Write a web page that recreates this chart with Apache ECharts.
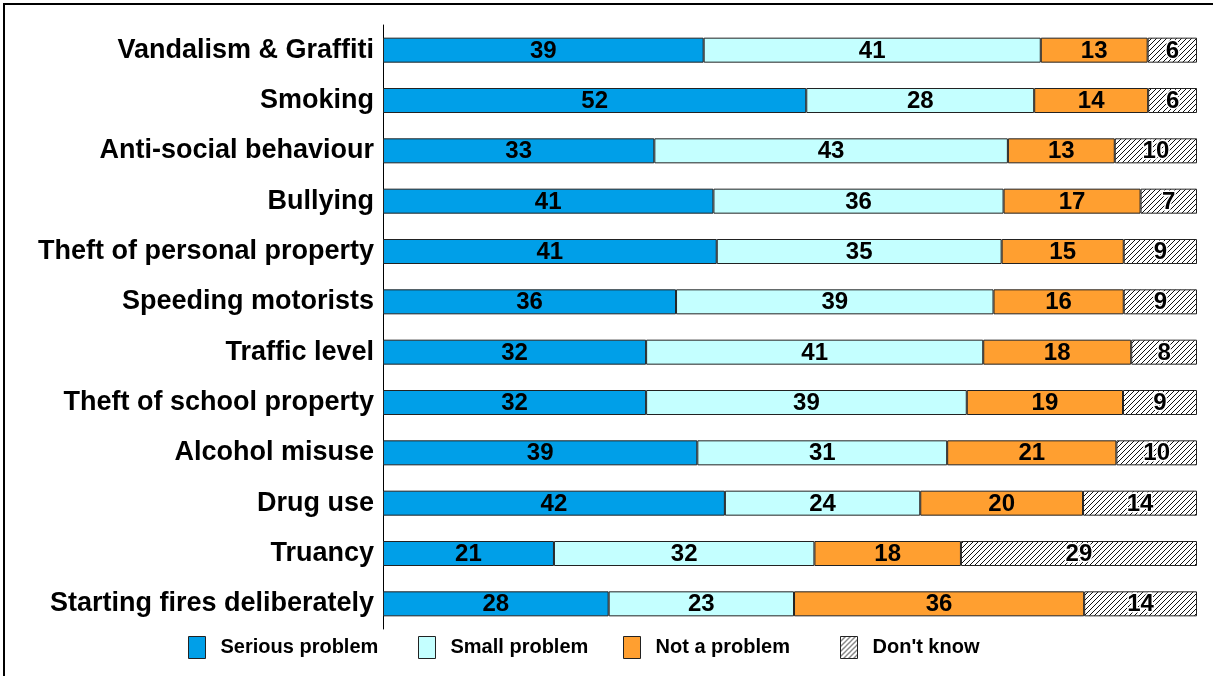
<!DOCTYPE html>
<html>
<head>
<meta charset="utf-8">
<script src="https://cdn.jsdelivr.net/npm/echarts@6/dist/echarts.min.js"></script>
<style>
  html, body { margin: 0; padding: 0; background: #fff; }
  #chart { width: 1213px; height: 676px; }
</style>
</head>
<body>
<div id="chart"></div>
<script>
var categories = ['Vandalism & Graffiti', 'Smoking', 'Anti-social behaviour', 'Bullying',
  'Theft of personal property', 'Speeding motorists', 'Traffic level', 'Theft of school property',
  'Alcohol misuse', 'Drug use', 'Truancy', 'Starting fires deliberately']
var serious = [39, 52, 33, 41, 41, 36, 32, 32, 39, 42, 21, 28]
var small = [41, 28, 43, 36, 35, 39, 41, 39, 31, 24, 32, 23]
var notProblem = [13, 14, 13, 17, 15, 16, 18, 19, 21, 20, 18, 36]
var dontKnow = [6, 6, 10, 7, 9, 9, 8, 9, 10, 14, 29, 14]
var seriesNames = ['Serious problem', 'Small problem', 'Not a problem', "Don't know"]

// hatch pattern for "Don't know"
function makeHatch() {
  var s = 5
  var c = document.createElement('canvas')
  c.width = s
  c.height = s
  var ctx = c.getContext('2d')
  ctx.fillStyle = '#fff'
  ctx.fillRect(0, 0, s, s)
  ctx.fillStyle = '#111'
  for (var i = 0; i < s; i++) {
    ctx.fillRect(i, s - 1 - i, 1, 1)
  }
  return c
}
var hatch = { image: makeHatch(), repeat: 'repeat' }

// every bar is stretched to the full width (row share)
var rows = [serious, small, notProblem, dontKnow]
var totals = categories.map(function (c, i) {
  return serious[i] + small[i] + notProblem[i] + dontKnow[i]
})

var colors = ['#009fe8', '#c4ffff', '#ff9f30', hatch]

var myChart = echarts.init(document.getElementById('chart'))

var series = rows.map(function (vals, k) {
  return {
    name: seriesNames[k],
    type: 'bar',
    stack: 'all',
    barWidth: 25,
    data: vals.map(function (v, i) {
      return { value: v / totals[i] * 100, raw: v }
    }),
    itemStyle: {
      color: colors[k],
      borderColor: '#222',
      borderWidth: 1
    },
    label: {
      show: true,
      position: 'inside',
      offset: [0, 1],
      color: '#000',
      fontFamily: 'Liberation Sans, Arial',
      fontWeight: 'bold',
      fontSize: 24,
      textBorderColor: k === 3 ? '#fff' : 'transparent',
      textBorderWidth: k === 3 ? 3 : 0,
      formatter: function (p) {
        return p.data.raw
      }
    }
  }
})

var legendLefts = [183, 413, 618, 835]
var legends = seriesNames.map(function (n, k) {
  return {
    data: [n],
    left: legendLefts[k],
    top: 631,
    itemWidth: 17,
    itemHeight: 22,
    icon: 'rect',
    selectedMode: false,
    itemStyle: { borderColor: '#222', borderWidth: 1 },
    textStyle: {
      color: '#000',
      fontFamily: 'Liberation Sans, Arial',
      fontWeight: 'bold',
      fontSize: 20,
      padding: [0, 0, 0, 10]
    }
  }
})

var option = {
  animation: false,
  backgroundColor: '#fff',
  grid: {
    left: 383,
    right: 16,
    top: 25,
    height: 604
  },
  legend: legends,
  xAxis: {
    type: 'value',
    min: 0,
    max: 100,
    show: false
  },
  yAxis: {
    type: 'category',
    inverse: true,
    data: categories,
    axisLine: { show: true, lineStyle: { color: '#000', width: 1 } },
    axisTick: { show: false },
    axisLabel: {
      margin: 9,
      color: '#000',
      fontFamily: 'Liberation Sans, Arial',
      fontWeight: 'bold',
      fontSize: 27,
      padding: [2, 0, 0, 0]
    }
  },
  graphic: [{
    type: 'rect',
    shape: { x: 4, y: 4, width: 1230, height: 700 },
    style: { fill: 'none', stroke: '#000', lineWidth: 2 },
    silent: true
  }],
  series: series
}
myChart.setOption(option)
</script>
</body>
</html>
